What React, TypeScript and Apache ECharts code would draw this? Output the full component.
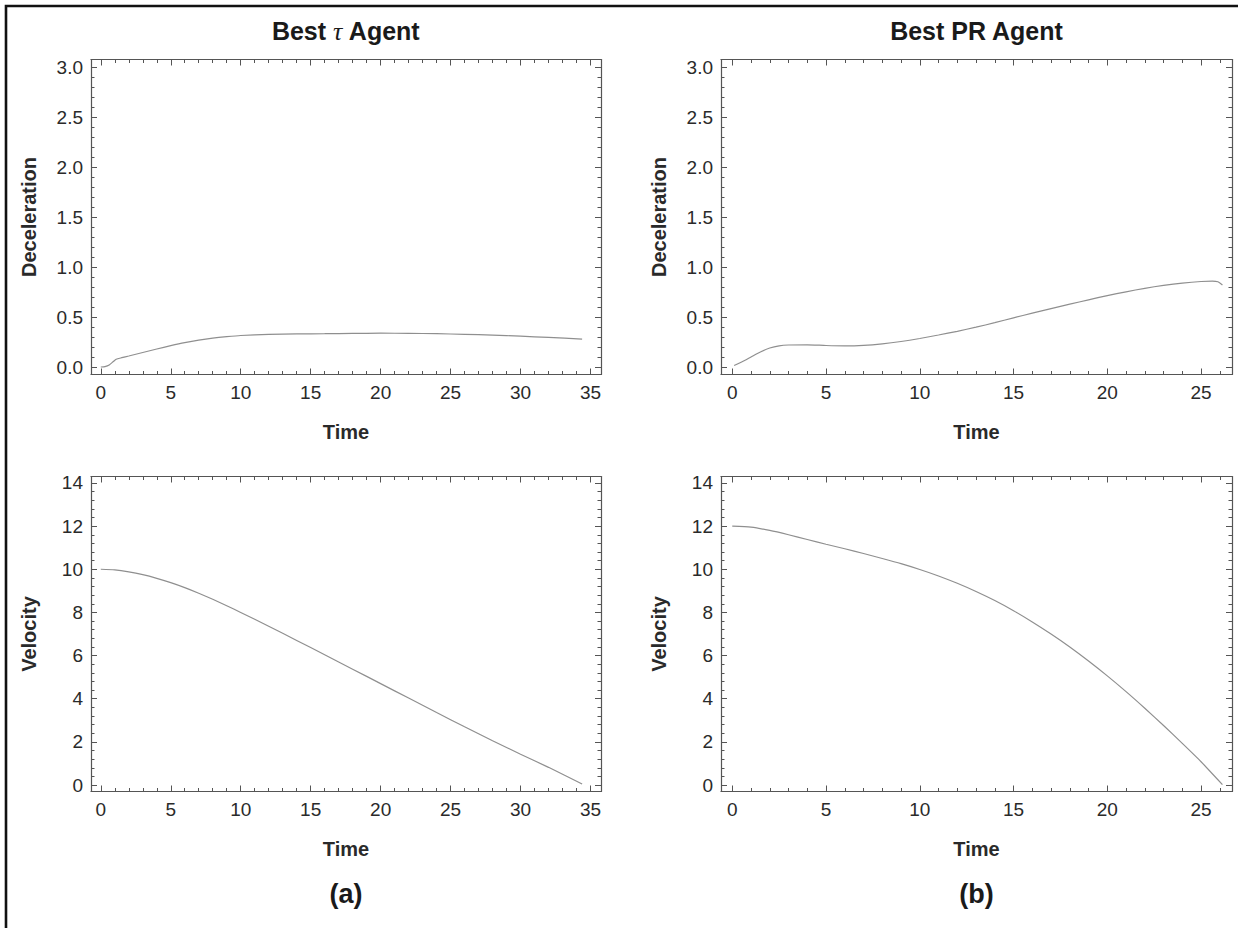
import React, { useEffect, useRef } from "react";
import * as echarts from "echarts";

// ---- data ----
const tauDecelTime = [0, 0.3, 0.6, 0.9, 1.1, 1.5, 2, 3, 4, 5, 6, 7, 8, 9, 10, 12, 14, 16, 18, 20, 22, 24, 26, 28, 30, 32, 34.4];
const tauDecel = [0, 0.004, 0.02, 0.055, 0.078, 0.093, 0.11, 0.145, 0.18, 0.213, 0.243, 0.268, 0.288, 0.303, 0.315, 0.326, 0.331, 0.333, 0.336, 0.338, 0.337, 0.333, 0.327, 0.319, 0.308, 0.296, 0.279];

const tauVelTime = [0, 1, 2, 3, 4, 5, 6, 7, 8, 9, 10, 12, 14, 16, 18, 20, 22, 24, 26, 28, 30, 32, 34.4];
const tauVel = [10, 9.97, 9.88, 9.75, 9.58, 9.38, 9.15, 8.89, 8.61, 8.31, 8.0, 7.36, 6.7, 6.04, 5.37, 4.7, 4.03, 3.36, 2.7, 2.05, 1.43, 0.82, 0.05];

const prDecelTime = [0.1, 0.5, 1, 1.5, 2, 2.5, 3, 4, 5, 6, 7, 8, 9, 10, 11, 12, 13, 14, 15, 16, 17, 18, 19, 20, 21, 22, 23, 24, 25, 25.6, 25.9, 26.14];
const prDecel = [0.015, 0.05, 0.1, 0.15, 0.19, 0.212, 0.22, 0.222, 0.215, 0.212, 0.217, 0.232, 0.255, 0.285, 0.32, 0.357, 0.398, 0.443, 0.492, 0.538, 0.583, 0.628, 0.672, 0.714, 0.752, 0.787, 0.816, 0.839, 0.855, 0.859, 0.852, 0.82];

const prVelTime = [0, 1, 2, 3, 4, 5, 6, 7, 8, 9, 10, 11, 12, 13, 14, 15, 16, 17, 18, 19, 20, 21, 22, 23, 24, 25, 26.14];
const prVel = [12, 11.95, 11.8, 11.6, 11.38, 11.16, 10.95, 10.73, 10.5, 10.26, 9.99, 9.69, 9.35, 8.97, 8.55, 8.08, 7.56, 7.0, 6.4, 5.75, 5.06, 4.33, 3.56, 2.76, 1.93, 1.08, 0.02];

const panelTitles = ["Best {t|τ} Agent", "Best PR Agent"];
const panelTags = ["(a)", "(b)"];
const xName = "Time";
const yNames = ["Deceleration", "Velocity"];

// axis ranges & steps
const tauTimeRange = [-0.7, 35.75];
const prTimeRange = [-0.6, 26.65];
const decelRange = [-0.075, 3.075];
const velRange = [-0.3, 14.3];
const timeStep = 5;
const decelStep = 0.5;
const velStep = 2;

const FONT = "'Liberation Sans', Arial, Helvetica, sans-serif";
const AXIS_COLOR = "#555555";
const LABEL_COLOR = "#2a2a2a";
const CURVE_COLOR = "#8f8f8f";

function zip(xs: number[], ys: number[]) {
  return xs.map((x, i) => [x, ys[i]]);
}

function onStep(step: number, digits: number) {
  return (v: number) => {
    const k = v / step;
    return Math.abs(k - Math.round(k)) < 1e-6 ? v.toFixed(digits) : "";
  };
}

function baseAxis(gridIndex: number, range: number[], step: number) {
  return {
    type: "value",
    gridIndex,
    min: range[0],
    max: range[1],
    minInterval: step,
    maxInterval: step,
    splitNumber: 5,
    axisLine: { show: true, onZero: false, lineStyle: { color: AXIS_COLOR, width: 1.2 } },
    axisTick: { show: true, inside: true, length: 6, lineStyle: { color: AXIS_COLOR, width: 1 } },
    minorTick: { show: true, splitNumber: 5, length: 3.5, lineStyle: { color: AXIS_COLOR, width: 1 } },
    splitLine: { show: false },
    minorSplitLine: { show: false },
  };
}

export default function App() {
  const ref = useRef<HTMLDivElement>(null);

  useEffect(() => {
    if (!ref.current) return;
    const chart = echarts.init(ref.current, null, { renderer: "svg" });

    const grids = [
      { left: 91, top: 59.5, width: 510, height: 315 },
      { left: 721, top: 59.5, width: 511, height: 315 },
      { left: 91, top: 476.5, width: 510, height: 315 },
      { left: 721, top: 476.5, width: 511, height: 315 },
    ];
    const xRanges = [tauTimeRange, prTimeRange, tauTimeRange, prTimeRange];
    const yRanges = [decelRange, decelRange, velRange, velRange];
    const ySteps = [decelStep, decelStep, velStep, velStep];
    const yDigits = [1, 1, 0, 0];
    const yNameIdx = [0, 0, 1, 1];

    const xAxis: any[] = [];
    const yAxis: any[] = [];
    grids.forEach((_, g) => {
      xAxis.push({
        ...baseAxis(g, xRanges[g], timeStep),
        position: "bottom",
        axisLabel: {
          show: true,
          margin: 8,
          fontSize: 19,
          color: LABEL_COLOR,
          fontFamily: FONT,
          formatter: onStep(timeStep, 0),
        },
        name: xName,
        nameLocation: "middle",
        nameGap: 47,
        nameTextStyle: { fontSize: 20, fontWeight: "bold", color: LABEL_COLOR, fontFamily: FONT },
      });
      xAxis.push({
        ...baseAxis(g, xRanges[g], timeStep),
        position: "top",
        axisLabel: { show: false },
      });
      yAxis.push({
        ...baseAxis(g, yRanges[g], ySteps[g]),
        position: "left",
        axisLabel: {
          show: true,
          margin: 8,
          fontSize: 19,
          color: LABEL_COLOR,
          fontFamily: FONT,
          formatter: onStep(ySteps[g], yDigits[g]),
        },
        name: yNames[yNameIdx[g]],
        nameLocation: "middle",
        nameGap: 52,
        nameTextStyle: { fontSize: 20, fontWeight: "bold", color: LABEL_COLOR, fontFamily: FONT },
      });
      yAxis.push({
        ...baseAxis(g, yRanges[g], ySteps[g]),
        position: "right",
        axisLabel: { show: false },
      });
    });

    const seriesData = [
      zip(tauDecelTime, tauDecel),
      zip(prDecelTime, prDecel),
      zip(tauVelTime, tauVel),
      zip(prVelTime, prVel),
    ];

    const series = seriesData.map((d, g) => ({
      type: "line",
      xAxisIndex: g * 2,
      yAxisIndex: g * 2,
      data: d,
      showSymbol: false,
      smooth: 0.2,
      lineStyle: { color: CURVE_COLOR, width: 1.2 },
      silent: true,
    }));

    const centers = [346, 976.5];
    const graphic: any[] = [
      {
        type: "rect",
        shape: { x: 6, y: 6, width: 1400, height: 1100 },
        style: { fill: "none", stroke: "#111111", lineWidth: 2.6 },
        silent: true,
      },
    ];
    centers.forEach((cx, i) => {
      graphic.push({
        type: "text",
        x: cx,
        y: 31,
        style: {
          text: panelTitles[i],
          font: `bold 25px ${FONT}`,
          fill: "#1a1a1a",
          align: "center",
          verticalAlign: "middle",
          rich: {
            t: {
              font: `italic 26px 'Liberation Serif', 'DejaVu Serif', serif`,
              fill: "#1a1a1a",
            },
          },
        },
      });
      graphic.push({
        type: "text",
        x: cx,
        y: 894,
        style: {
          text: panelTags[i],
          font: `bold 27px ${FONT}`,
          fill: "#1a1a1a",
          align: "center",
          verticalAlign: "middle",
        },
      });
    });

    chart.setOption({
      animation: false,
      backgroundColor: "#ffffff",
      grid: grids.map((g) => ({ ...g, containLabel: false })),
      xAxis,
      yAxis,
      series,
      graphic,
    });

    return () => chart.dispose();
  }, []);

  return (
    <div
      ref={ref}
      style={{ position: "absolute", left: 0, top: 0, width: 1238, height: 928, background: "#fff" }}
    />
  );
}
